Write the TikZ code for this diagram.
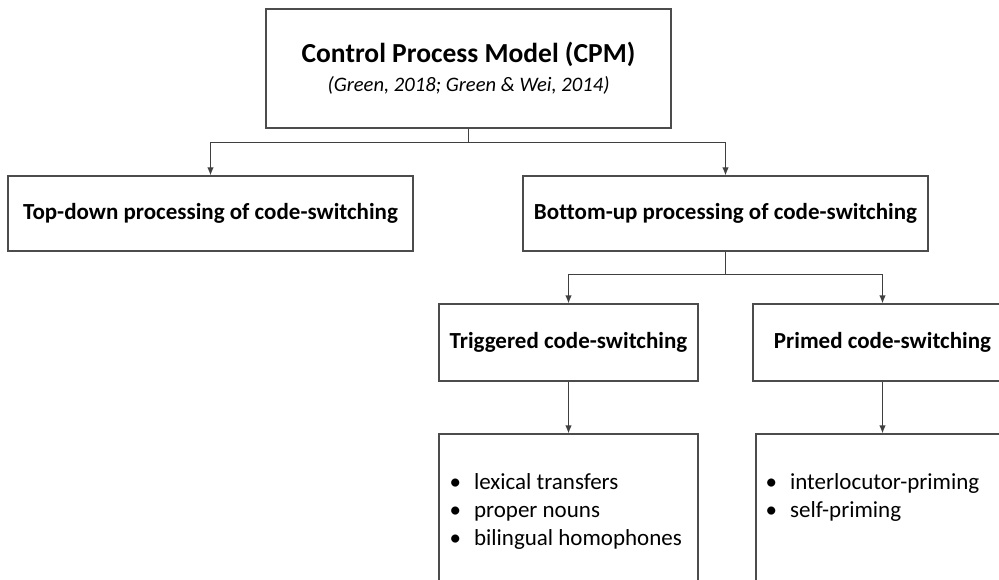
\documentclass[tikz,border=0pt]{standalone}
\usepackage{fontspec}
\setmainfont{Carlito}[Ligatures=NoCommon]
\usepackage{tikz}
\usetikzlibrary{shapes,arrows,arrows.meta,positioning,calc}

\begin{document}
\begin{tikzpicture}[node distance=140pt, auto]
\tikzstyle{block} = [rectangle, draw=black!70, line width=1.2pt, align=center, inner sep=0pt, minimum width=405pt, minimum height=75pt, font=\fontsize{23}{26}\selectfont\bfseries]
\tikzstyle{subblock} = [block, minimum width=259pt, minimum height=77pt]
\tikzstyle{itembox} = [rectangle, draw=black!70, line width=1.2pt, minimum width=259pt, minimum height=200pt]
\tikzstyle{items} = [inner sep=0pt, anchor=north west, align=left, font=\fontsize{23}{28}\selectfont]
\tikzstyle{line} = [draw=black!75, line width=1.2pt, -{Latex[length=8pt,width=6.5pt]}]

\useasboundingbox (0pt,0pt) rectangle (999pt,-580pt);

\node [block, minimum height=119pt] (cpm) at (468.5pt,-68.5pt) {{\fontsize{27.5}{30}\selectfont Control Process Model (CPM)}\\[3pt]{\fontsize{20.6}{24}\selectfont\mdseries\itshape (Green, 2018; Green \& Wei, 2014)}};
\node [block, below of=cpm, node distance=145pt, xshift=-258pt] (topdown) {Top-down processing of code-switching};
\node [block, right of=topdown, node distance=515pt] (bottomup) {Bottom-up processing of code-switching};
\node [subblock, below of=bottomup, node distance=129pt, xshift=-157pt] (triggered) {Triggered code-switching};
\node [subblock, right of=triggered, node distance=314pt] (primed) {Primed code-switching};
\node [itembox, below of=triggered, node distance=191.5pt] (trigitems) {};
\node [itembox, right of=trigitems, node distance=317pt] (primitems) {};

\node [items, xshift=11pt, yshift=-36pt] at (trigitems.north west) (trigtext) {\begin{tabular}{@{}l@{\hspace{13pt}}l@{}}\textbullet & lexical transfers\\ \textbullet & proper nouns\\ \textbullet & bilingual homophones\end{tabular}};
\node [items, xshift=10pt, yshift=-36pt] at (primitems.north west) (primtext) {\begin{tabular}{@{}l@{\hspace{13pt}}l@{}}\textbullet & interlocutor-priming\\ \textbullet & self-priming\end{tabular}};

\path [line] (cpm.south) -- ++(0,-14pt) -| (topdown.north);
\path [line] (cpm.south) -- ++(0,-14pt) -| (bottomup.north);
\path [line] (bottomup.south) -- ++(0,-23pt) -| (triggered.north);
\path [line] (bottomup.south) -- ++(0,-23pt) -| (primed.north);
\path [line] (triggered) -- (trigitems);
\path [line] (primed.south) -- (primed.south |- primitems.north);
\end{tikzpicture}
\end{document}
